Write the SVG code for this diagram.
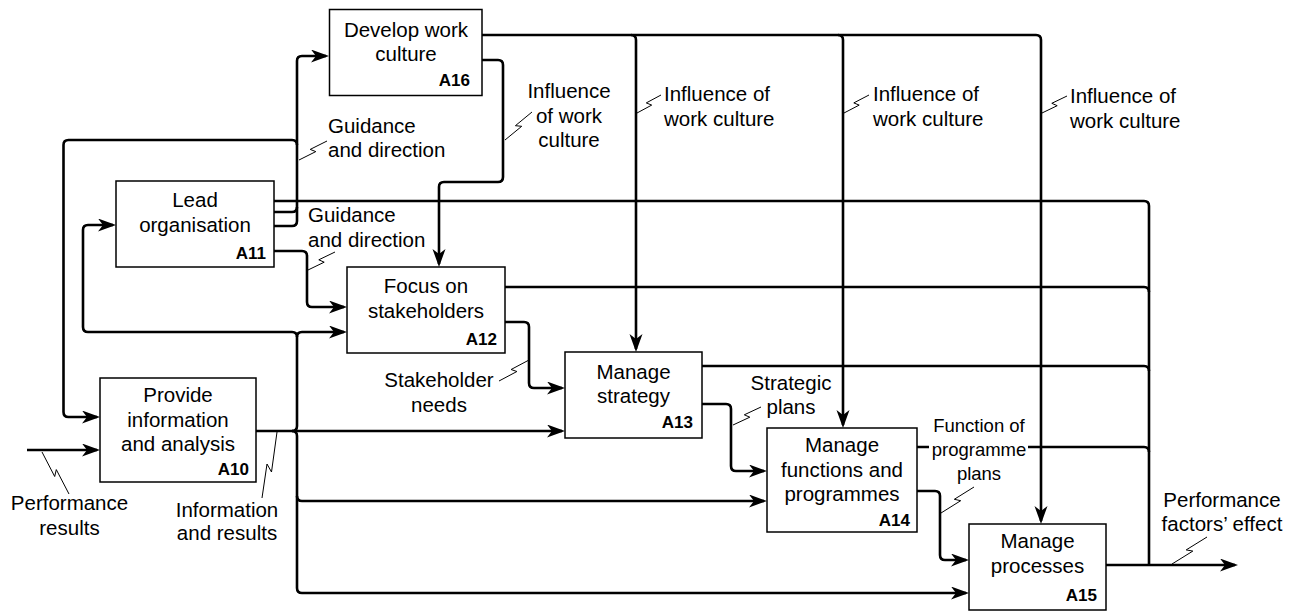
<svg xmlns="http://www.w3.org/2000/svg" width="1294" height="611" viewBox="0 0 1294 611">
<style>
.box{fill:#fff;stroke:#000;stroke-width:1.5}
.t{font-family:"Liberation Sans",Arial,sans-serif;font-size:20.5px;fill:#000}
.m{text-anchor:middle}
.id{font-family:"Liberation Sans",Arial,sans-serif;font-size:17px;font-weight:bold;text-anchor:end;fill:#000}
.c{fill:none;stroke:#000;stroke-width:2.6}
.a{marker-end:url(#arr)}
.z{fill:none;stroke:#000;stroke-width:1}
</style>
<defs>
<marker id="arr" markerUnits="userSpaceOnUse" markerWidth="20" markerHeight="15" refX="15" refY="6.5" orient="auto">
<path d="M0,0 L18,6.5 L0,13 L5,6.5 z" fill="#000"/>
</marker>
</defs>
<rect width="1294" height="611" fill="#fff"/>
<g id="connectors">
<path class="c a" d="M274,226 H292 Q297,226 297,221 V61 Q297,56 302,56 H326"/>
<path class="c" d="M274,212 H292 Q297,212 297,207"/>
<path class="c a" d="M297,145 Q297,140 292,140 H68.5 Q63.5,140 63.5,145 V412 Q63.5,417 68.5,417 H97"/>
<path class="c a" d="M274,251 H302 Q307,251 307,256 V302 Q307,307 312,307 H344"/>
<path class="c a" d="M482,60 H498 Q503,60 503,65 V177 Q503,182 498,182 H444 Q439,182 439,187 V264"/>
<path class="c a" d="M482,35 H1036 Q1041,35 1041,40 V521"/>
<path class="c a" d="M631,35 Q636,35 636,40 V349"/>
<path class="c a" d="M838,35 Q843,35 843,40 V425"/>
<path class="c" d="M274,201 H1144 Q1149,201 1149,206 V565"/>
<path class="c" d="M505,287 H1144 Q1149,287 1149,292"/>
<path class="c" d="M702,366 H1144 Q1149,366 1149,371"/>
<path class="c" d="M917,447 H1144 Q1149,447 1149,452"/>
<path class="c a" d="M1106,565 H1235"/>
<path class="c a" d="M256,431 H562"/>
<path class="c a" d="M292,431 Q297,431 297,426 V337 Q297,332 302,332 H344"/>
<path class="c a" d="M297,337 Q297,332 292,332 H88 Q83,332 83,327 V230 Q83,225 88,225 H113"/>
<path class="c a" d="M292,431 Q297,431 297,436 V588 Q297,593 302,593 H966"/>
<path class="c a" d="M297,496 Q297,501 302,501 H764"/>
<path class="c a" d="M505,322 H524 Q529,322 529,327 V383 Q529,388 534,388 H562"/>
<path class="c a" d="M702,404 H726 Q731,404 731,409 V466 Q731,471 736,471 H764"/>
<path class="c a" d="M917,491 H935 Q940,491 940,496 V555 Q940,560 945,560 H966"/>
<path class="c a" d="M27,450 H97"/>
</g>
<g id="squiggles">
<polyline class="z" points="299,160 315.8,151.6 310.2,149.4 327,141"/>
<polyline class="z" points="308,270 324.2,262.2 318.8,259.8 335,252"/>
<polyline class="z" points="505,140 521.7,126.3 515.4,125.7 532,112"/>
<polyline class="z" points="637,113 651.7,105.1 646.3,102.9 661,95"/>
<polyline class="z" points="844,113 859.2,105.1 853.8,102.9 869,95"/>
<polyline class="z" points="1042,113 1057.2,105.7 1051.8,103.3 1067,96"/>
<polyline class="z" points="529,360 511.1,369.5 516.9,371.5 499,381"/>
<polyline class="z" points="733,425 749.8,417.2 744.3,414.8 761,407"/>
<polyline class="z" points="941,513 960.7,500.7 954.3,499.3 974,487"/>
<polyline class="z" points="1172,564 1192.8,551.1 1186.2,549.9 1207,537"/>
<polyline class="z" points="42,452 54.7,476.5 56.3,469.6 69,494"/>
<polyline class="z" points="277,432 271.5,472 267,464 262,498"/>
</g>
<g id="A16">
<rect class="box" x="329.5" y="9.5" width="152.5" height="86"/>
<text class="t m" x="406" y="37">Develop work</text>
<text class="t m" x="406" y="61">culture</text>
<text class="id" x="470" y="86">A16</text>
</g>
<g id="A11">
<rect class="box" x="116" y="181" width="158" height="86"/>
<text class="t m" x="195" y="207">Lead</text>
<text class="t m" x="195" y="232">organisation</text>
<text class="id" x="266" y="259">A11</text>
</g>
<g id="A12">
<rect class="box" x="347" y="267" width="158" height="86"/>
<text class="t m" x="426" y="293">Focus on</text>
<text class="t m" x="426" y="318">stakeholders</text>
<text class="id" x="497" y="345">A12</text>
</g>
<g id="A10">
<rect class="box" x="100" y="378" width="156" height="104"/>
<text class="t m" x="178" y="402">Provide</text>
<text class="t m" x="178" y="427">information</text>
<text class="t m" x="178" y="451">and analysis</text>
<text class="id" x="249" y="475">A10</text>
</g>
<g id="A13">
<rect class="box" x="565" y="352" width="137" height="86"/>
<text class="t m" x="633.5" y="379">Manage</text>
<text class="t m" x="633.5" y="403">strategy</text>
<text class="id" x="693" y="428">A13</text>
</g>
<g id="A14">
<rect class="box" x="767" y="428" width="150" height="104"/>
<text class="t m" x="842" y="452">Manage</text>
<text class="t m" x="842" y="477">functions and</text>
<text class="t m" x="842" y="501">programmes</text>
<text class="id" x="910" y="526">A14</text>
</g>
<g id="A15">
<rect class="box" x="969" y="524" width="137" height="86"/>
<text class="t m" x="1037.5" y="548">Manage</text>
<text class="t m" x="1037.5" y="573">processes</text>
<text class="id" x="1097" y="601">A15</text>
</g>
<g id="labels">
<text class="t" x="328" y="133">Guidance</text>
<text class="t" x="328" y="157">and direction</text>
<text class="t" x="308" y="222">Guidance</text>
<text class="t" x="308" y="247">and direction</text>
<text class="t m" x="569" y="98">Influence</text>
<text class="t m" x="569" y="123">of work</text>
<text class="t m" x="569" y="147">culture</text>
<text class="t" x="664" y="101">Influence of</text>
<text class="t" x="664" y="126">work culture</text>
<text class="t" x="873" y="101">Influence of</text>
<text class="t" x="873" y="126">work culture</text>
<text class="t" x="1070" y="103">Influence of</text>
<text class="t" x="1070" y="128">work culture</text>
<text class="t m" x="439" y="387">Stakeholder</text>
<text class="t m" x="439" y="412">needs</text>
<text class="t m" x="791" y="390">Strategic</text>
<text class="t m" x="791" y="414">plans</text>
<rect x="929" y="437" width="99" height="20" fill="#fff"/>
<text class="t m" x="979" y="432" style="font-size:18.5px">Function of</text>
<text class="t m" x="979" y="456" style="font-size:18.5px">programme</text>
<text class="t m" x="979" y="480" style="font-size:18.5px">plans</text>
<text class="t m" x="1222" y="507">Performance</text>
<text class="t m" x="1222" y="531">factors’ effect</text>
<text class="t m" x="69.5" y="510">Performance</text>
<text class="t m" x="69.5" y="535">results</text>
<text class="t m" x="227" y="517">Information</text>
<text class="t m" x="227" y="540">and results</text>
</g>
</svg>
